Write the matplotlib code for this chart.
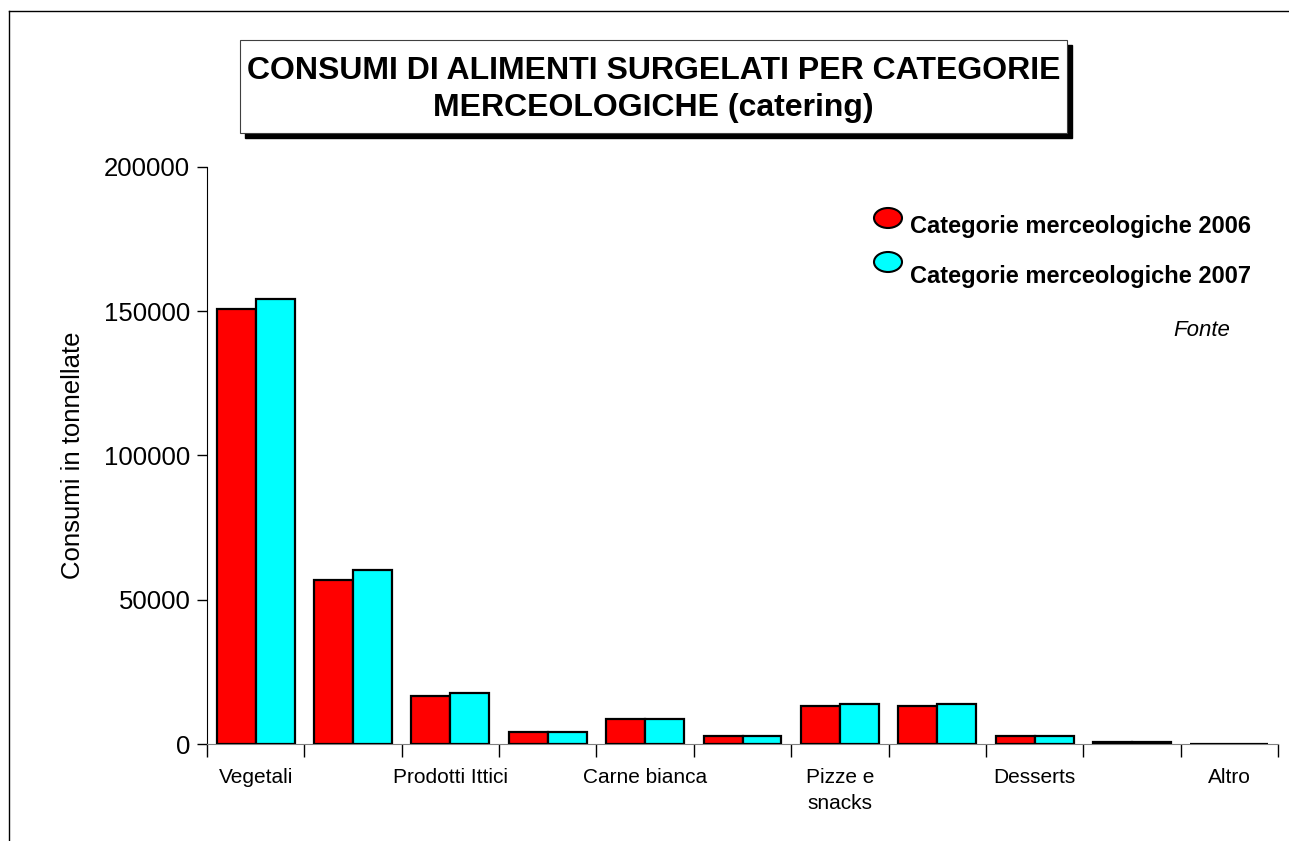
import numpy as np
import matplotlib
matplotlib.use("Agg")
from matplotlib import pyplot as plt
from matplotlib.patches import Rectangle, Ellipse
from matplotlib.lines import Line2D

plt.rcParams['font.family'] = ['Liberation Sans', 'DejaVu Sans']

# dati (tonnellate)
categorie = ['Vegetali', '', 'Prodotti Ittici', '', 'Carne bianca', '',
             'Pizze e\nsnacks', '', 'Desserts', '', 'Altro']
anno2006 = [150800, 56800, 16600, 4150, 8800, 2600, 13300, 13100, 2600, 600, 0]
anno2007 = [154200, 60300, 17700, 4300, 8700, 2600, 13900, 14000, 2600, 700, 0]
yticks = [0, 50000, 100000, 150000, 200000]

W, H = 1289, 841
fig = plt.figure(figsize=(W / 100, H / 100), dpi=100)
ax = fig.add_axes([207 / W, 1 - 744 / H, (1278 - 207) / W, (744 - 167) / H])

x = np.arange(len(categorie))
w = 0.4
ax.bar(x - w / 2, anno2006, w, color='#ff0000', edgecolor='black', linewidth=1.6, zorder=3)
ax.bar(x + w / 2, anno2007, w, color='#00ffff', edgecolor='black', linewidth=1.6, zorder=3)

ax.set_xlim(-0.5, len(categorie) - 0.5)
ax.set_ylim(0, 200000)
ax.set_yticks(yticks)
ax.set_yticklabels([str(v) for v in yticks], fontsize=18.5)
ax.tick_params(axis='y', direction='out', length=7, width=1, pad=5)

# tacche sui bordi delle categorie, etichette al centro
ax.set_xticks(np.arange(-0.5, len(categorie), 1.0))
ax.set_xticklabels([])
ax.tick_params(axis='x', which='major', direction='out', length=9, width=1, color='black')
ax.set_xticks(x, minor=True)
ax.set_xticklabels(categorie, minor=True, fontsize=15, va='top', linespacing=1.5)
ax.tick_params(axis='x', which='minor', length=0, pad=17)

for s in ['top', 'right']:
    ax.spines[s].set_visible(False)
ax.spines['bottom'].set_color('#808080')
ax.spines['left'].set_color('black')

ax.set_ylabel('Consumi in tonnellate', fontsize=18.5, labelpad=14)

# titolo in riquadro con ombra
x0, y0, x1, y1 = 240 / W, 1 - 133 / H, 1067 / W, 1 - 40 / H
fig.patches.append(Rectangle((x0 + 5 / W, y0 - 5 / H), x1 - x0, y1 - y0,
                             transform=fig.transFigure, facecolor='black', edgecolor='black', zorder=1))
fig.patches.append(Rectangle((x0, y0), x1 - x0, y1 - y0,
                             transform=fig.transFigure, facecolor='white', edgecolor='#404040',
                             linewidth=0.8, zorder=2))
fig.text((x0 + x1) / 2, (y0 + y1) / 2 - 3 / H,
         'CONSUMI DI ALIMENTI SURGELATI PER CATEGORIE\nMERCEOLOGICHE (catering)',
         ha='center', va='center', fontsize=23, fontweight='bold', linespacing=1.3, zorder=3)

# legenda
leg = [('#ff0000', 218, 226, 'Categorie merceologiche 2006'),
       ('#00ffff', 262, 276, 'Categorie merceologiche 2007')]
for col, ym, yt, lab in leg:
    fig.patches.append(Ellipse((888 / W, 1 - ym / H), 28 / W, 20 / H, transform=fig.transFigure,
                               facecolor=col, edgecolor='black', linewidth=1.5))
    fig.text(910 / W, 1 - yt / H, lab, ha='left', va='center', fontsize=17, fontweight='bold')
fig.text(1230 / W, 1 - 330 / H, 'Fonte', ha='right', va='center', fontsize=16, style='italic')

# cornice
fig.add_artist(Line2D([9 / W, 1], [1 - 11 / H, 1 - 11 / H], color='black', linewidth=1))
fig.add_artist(Line2D([9 / W, 9 / W], [0, 1 - 11 / H], color='black', linewidth=1))

fig.savefig('out.png', dpi=100)
